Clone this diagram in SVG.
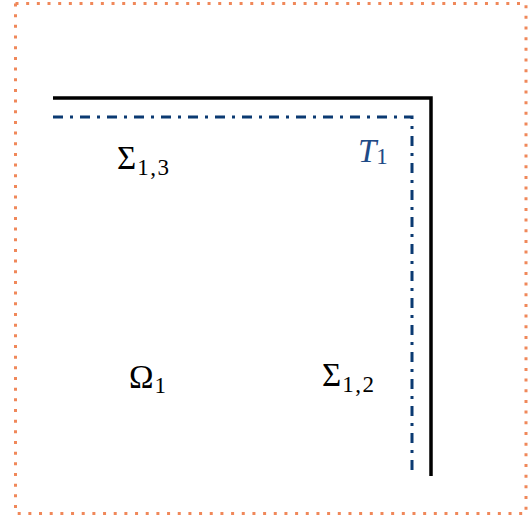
<svg xmlns="http://www.w3.org/2000/svg" width="530" height="521" viewBox="0 0 530 521">
<style>
.frame{fill:none;stroke:#F0885A;stroke-width:3;stroke-dasharray:3 7.67}
.wall{fill:none;stroke:#000;stroke-width:3.5}
.iface{fill:none;stroke:#0B3A72;stroke-width:3;stroke-dasharray:10 7 3 7}
.lbl{font-family:"Liberation Serif","DejaVu Serif",serif;font-size:33px;fill:#000}
.sub{font-size:23px;letter-spacing:1.5px}
.blue{fill:#1F4A86;font-style:italic}
</style>
<g id="frame"><rect class="frame" x="15.5" y="3.5" width="510.5" height="510"/></g>
<g id="connectors">
<polyline class="wall" points="53,98 431,98 431,476"/>
<polyline class="iface" points="53,117 412,117 412,476"/>
</g>
<g id="sigma13"><text class="lbl" x="117" y="169">Σ<tspan class="sub" dy="6" dx="1">1,3</tspan></text></g>
<g id="tau1"><text class="lbl blue" x="358" y="162">T<tspan class="sub" dy="2" font-style="normal">1</tspan></text></g>
<g id="omega1"><text class="lbl" x="129" y="388">Ω<tspan class="sub" dy="5" dx="1">1</tspan></text></g>
<g id="sigma12"><text class="lbl" x="322" y="386">Σ<tspan class="sub" dy="6" dx="1">1,2</tspan></text></g>
</svg>
